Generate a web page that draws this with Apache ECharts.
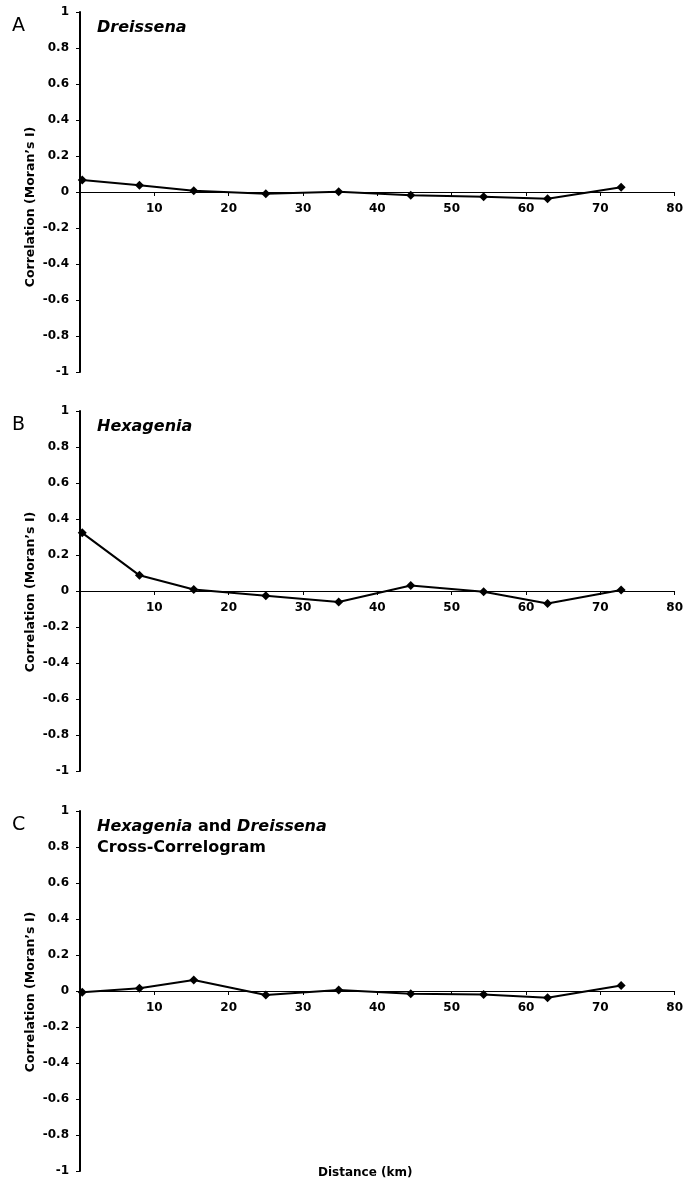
<!DOCTYPE html>
<html lang="en">

<head>
  <meta charset="UTF-8">
  <title>Correlograms</title>
  <script src="https://cdn.jsdelivr.net/npm/echarts@6.0.0/dist/echarts.min.js"></script>
  <style>
    body { margin: 0; background: #fff; }
  </style>
</head>

<body>
  <div id="main" style="width: 686px;height:1185px;"></div>

  <script type="text/javascript">
    // Distance classes (km) and Moran's I per panel
    const distances = [0.3, 8, 15.3, 25, 34.8, 44.5, 54.3, 62.9, 72.8];
    const dreissena = [0.067, 0.038, 0.007, -0.01, 0.001, -0.018, -0.027, -0.038, 0.027];
    const hexagenia = [0.323, 0.087, 0.008, -0.027, -0.061, 0.03, -0.004, -0.07, 0.005];
    const crossCorr = [-0.007, 0.015, 0.061, -0.022, 0.006, -0.015, -0.02, -0.037, 0.031];

    const panelLetters = ['A', 'B', 'C'];
    const panelTitles = [
      '{i|Dreissena}',
      '{i|Hexagenia}',
      '{i|Hexagenia}{n| and }{i|Dreissena}\n{n|Cross-Correlogram}'
    ];
    const panelData = [dreissena, hexagenia, crossCorr];

    const font = 'DejaVu Sans';
    const gridTops = [12, 411, 811];
    const gridHeight = 360;
    // vertical centre of each rotated y-axis title
    const yNameCentres = [207, 592, 992];

    let myChart = echarts.init(document.getElementById('main'));

    const grids = gridTops.map(t => ({ left: 80, right: 8, top: t, height: gridHeight }));

    // x axis sits on y = 0, i.e. half way up each grid
    const xAxes = gridTops.map((t, i) => ({
      type: 'value',
      gridIndex: i,
      position: 'bottom',
      offset: -gridHeight / 2,
      min: 0,
      max: 80,
      interval: 10,
      axisLine: { onZero: false, lineStyle: { color: '#000', width: 1 } },
      axisTick: { show: true, length: 4, lineStyle: { color: '#000' } },
      axisLabel: {
        showMinLabel: false,
        margin: 11,
        color: '#000',
        fontFamily: font,
        fontWeight: 'bold',
        fontSize: 12
      },
      splitLine: { show: false }
    }));

    const yAxes = gridTops.map((t, i) => ({
      type: 'value',
      gridIndex: i,
      min: -1,
      max: 1,
      interval: 0.2,
      axisLine: { show: true, lineStyle: { color: '#000', width: 2 } },
      axisTick: { show: true, length: 4, lineStyle: { color: '#000' } },
      axisLabel: {
        margin: 11,
        color: '#000',
        fontFamily: font,
        fontWeight: 'bold',
        fontSize: 12
      },
      splitLine: { show: false }
    }));

    const series = panelData.map((vals, i) => ({
      type: 'line',
      xAxisIndex: i,
      yAxisIndex: i,
      data: distances.map((d, k) => [d, vals[k]]),
      symbol: 'diamond',
      symbolSize: 9,
      lineStyle: { color: '#000', width: 2 },
      itemStyle: { color: '#000' },
      z: 5
    }));

    const titleRich = {
      i: { fontFamily: font, fontWeight: 'bold', fontStyle: 'italic', fontSize: 16, color: '#000', lineHeight: 21 },
      n: { fontFamily: font, fontWeight: 'bold', fontSize: 16, color: '#000', lineHeight: 21 }
    };

    const titles = [];
    gridTops.forEach((t, i) => {
      titles.push({
        text: panelLetters[i],
        left: 12,
        top: t + 5,
        padding: 0,
        textStyle: { fontFamily: font, fontWeight: 'normal', fontSize: 19, color: '#000' }
      });
      titles.push({
        text: panelTitles[i],
        left: 97,
        top: t + 5,
        padding: 0,
        textStyle: { rich: titleRich }
      });
    });

    const graphics = yNameCentres.map(c => ({
      type: 'text',
      x: 31,
      y: c,
      rotation: Math.PI / 2,
      style: {
        text: 'Correlation (Moran\u2019s I)',
        fontFamily: font,
        fontWeight: 'bold',
        fontSize: 12.5,
        fill: '#000',
        align: 'center',
        verticalAlign: 'middle'
      }
    }));
    graphics.push({
      type: 'text',
      left: 318,
      top: 1167,
      style: {
        text: 'Distance (km)',
        fontFamily: font,
        fontWeight: 'bold',
        fontSize: 12,
        fill: '#000'
      }
    });

    const options = {
      backgroundColor: '#fff',
      animation: false,
      title: titles,
      grid: grids,
      xAxis: xAxes,
      yAxis: yAxes,
      series: series,
      graphic: graphics
    };

    myChart.setOption(options);
  </script>
</body>

</html>
